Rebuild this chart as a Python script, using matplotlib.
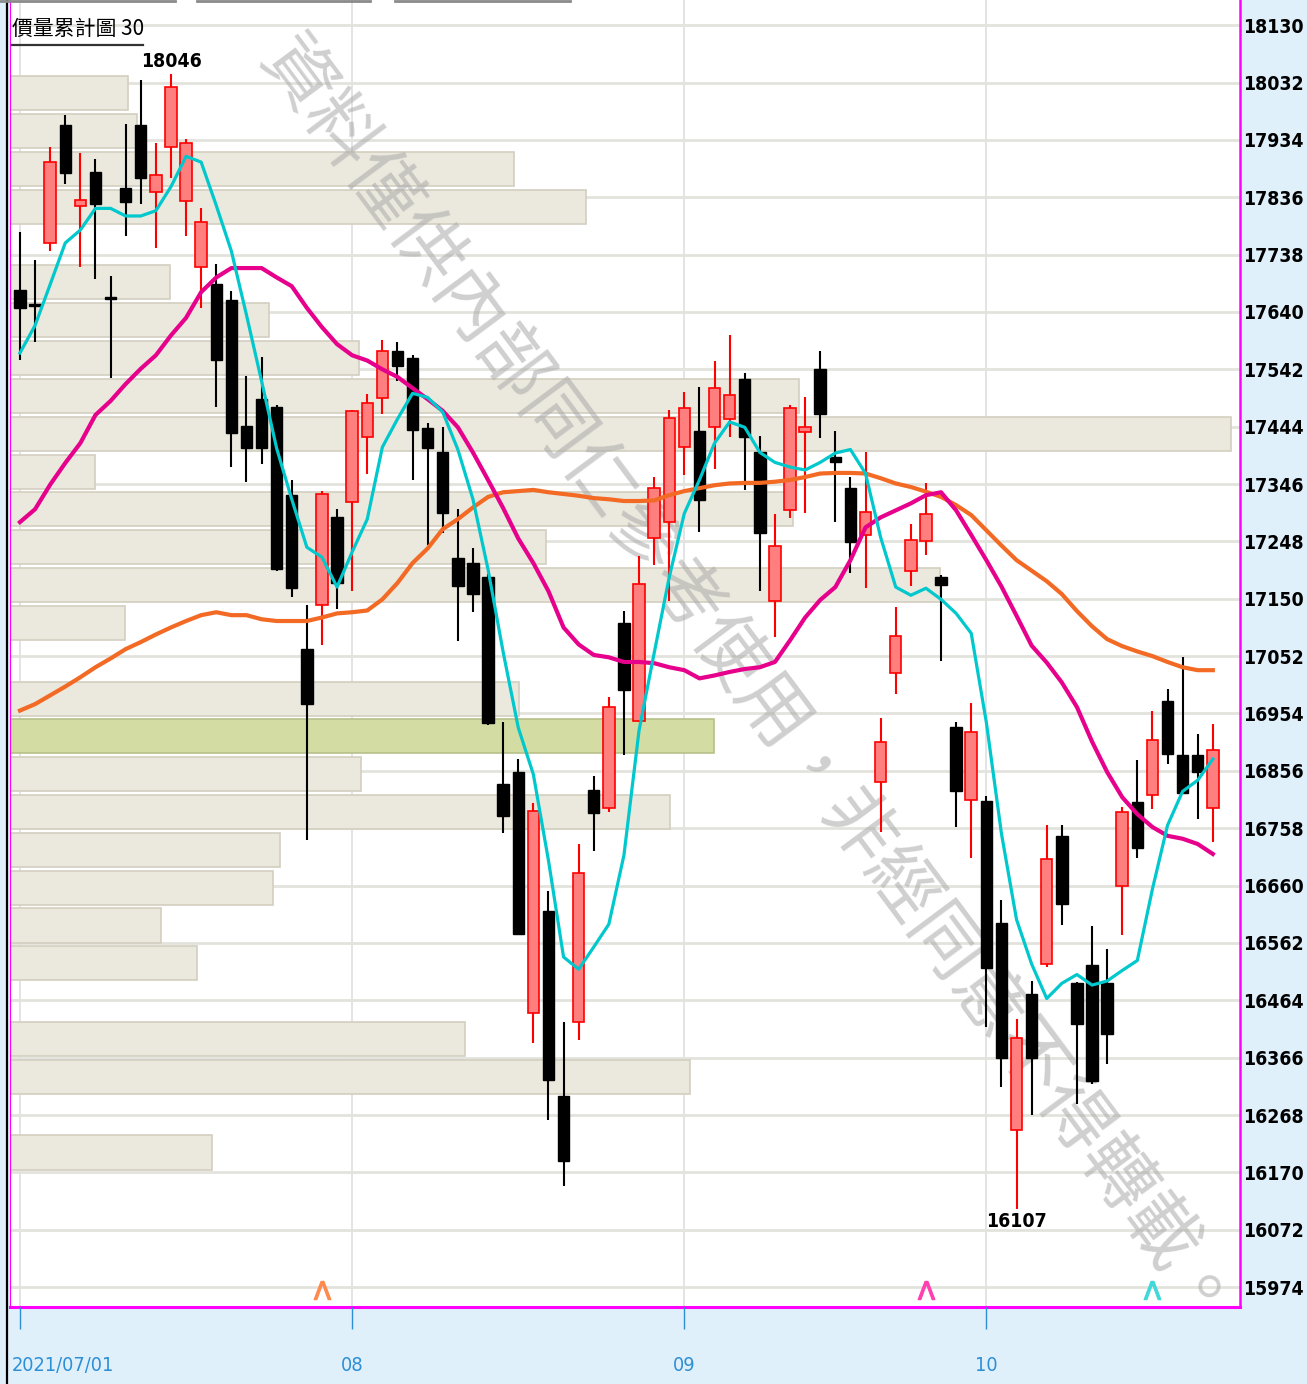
import matplotlib
matplotlib.use("Agg")
import matplotlib.pyplot as plt
import numpy as np
from matplotlib import font_manager
from matplotlib.font_manager import FontProperties
from matplotlib.textpath import TextPath
from matplotlib.lines import Line2D
from matplotlib.transforms import blended_transform_factory, ScaledTranslation

# 日K資料 2021/07/01 ~ 2021/10
opens = [17677, 17654, 17758, 17959, 17821, 17879, 17665, 17852, 17959, 17845,
         17922, 17829, 17717, 17687, 17660, 17445, 17491, 17477, 17327, 17064,
         17139, 17289, 17315, 17426, 17493, 17574, 17561, 17441, 17400, 17219,
         17211, 17187, 16833, 16854, 16442, 16617, 16301, 16427, 16823, 16792,
         17108, 16942, 17253, 17281, 17409, 17436, 17443, 17457, 17525, 17401,
         17146, 17301, 17435, 17542, 17392, 17339, 17259, 16837, 17023, 17198,
         17249, 17188, 16931, 16806, 16804, 16596, 16242, 16475, 16526, 16745,
         16493, 16524, 16493, 16659, 16802, 16814, 16975, 16883, 16883, 16792]
highs = [17776, 17728, 17922, 17977, 17911, 17902, 17701, 17962, 18036, 17928,
         18046, 17935, 17817, 17722, 17676, 17530, 17563, 17481, 17353, 17139,
         17334, 17303, 17472, 17500, 17592, 17588, 17566, 17450, 17443, 17303,
         17236, 17192, 16940, 16876, 16801, 16650, 16427, 16731, 16847, 16982,
         17129, 17223, 17358, 17472, 17503, 17512, 17556, 17600, 17535, 17428,
         17294, 17481, 17494, 17574, 17436, 17358, 17401, 16946, 17136, 17277,
         17347, 17190, 16940, 16972, 16813, 16635, 16432, 16497, 16763, 16763,
         16495, 16591, 16551, 16794, 16874, 16958, 16995, 17050, 16919, 16936]
lows = [17558, 17588, 17744, 17859, 17717, 17696, 17527, 17769, 17824, 17749,
        17869, 17769, 17646, 17477, 17375, 17349, 17380, 17197, 17153, 16738,
        17071, 17132, 17163, 17363, 17465, 17522, 17353, 17242, 17262, 17078,
        17127, 16935, 16749, 16575, 16391, 16259, 16147, 16396, 16719, 16785,
        16883, 16939, 17207, 17146, 17361, 17264, 17371, 17426, 17335, 17163,
        17084, 17288, 17296, 17424, 17281, 17194, 17168, 16751, 16987, 17171,
        17224, 17043, 16760, 16707, 16418, 16316, 16107, 16268, 16521, 16592,
        16286, 16321, 16356, 16575, 16707, 16791, 16867, 16816, 16774, 16734]
closes = [17646, 17651, 17896, 17877, 17831, 17824, 17662, 17828, 17869, 17874,
          18025, 17928, 17793, 17558, 17434, 17407, 17407, 17201, 17168, 16970,
          17329, 17177, 17471, 17484, 17573, 17547, 17438, 17407, 17296, 17172,
          17158, 16937, 16779, 16577, 16788, 16327, 16190, 16681, 16784, 16965,
          16994, 17175, 17339, 17459, 17476, 17318, 17510, 17498, 17426, 17262,
          17240, 17476, 17444, 17465, 17384, 17247, 17298, 16905, 17086, 17250,
          17294, 17173, 16821, 16922, 16520, 16365, 16399, 16365, 16705, 16628,
          16424, 16326, 16407, 16785, 16725, 16908, 16884, 16818, 16854, 16891]

# 均線
ma5 = [17570, 17617, 17687, 17758, 17780, 17817, 17817, 17804, 17804, 17813,
       17854, 17906, 17896, 17822, 17744, 17635, 17522, 17407, 17320, 17238,
       17221, 17170, 17230, 17286, 17409, 17457, 17501, 17494, 17469, 17405,
       17320, 17200, 17059, 16930, 16850, 16703, 16538, 16517, 16555, 16594,
       16712, 16925, 17057, 17187, 17296, 17353, 17416, 17452, 17443, 17400,
       17383, 17375, 17370, 17383, 17399, 17405, 17364, 17255, 17170, 17156,
       17168, 17149, 17125, 17091, 16939, 16749, 16602, 16526, 16467, 16493,
       16508, 16490, 16497, 16515, 16532, 16654, 16763, 16821, 16840, 16876]
ma20 = [17281, 17303, 17345, 17382, 17416, 17464, 17488, 17517, 17543, 17566,
        17600, 17630, 17674, 17699, 17715, 17715, 17715, 17699, 17684, 17647,
        17614, 17585, 17566, 17557, 17542, 17529, 17510, 17491, 17471, 17443,
        17400, 17353, 17305, 17253, 17211, 17163, 17101, 17072, 17054, 17050,
        17042, 17042, 17040, 17033, 17028, 17014, 17019, 17025, 17030, 17033,
        17042, 17079, 17118, 17148, 17170, 17216, 17272, 17289, 17301, 17313,
        17327, 17332, 17301, 17259, 17216, 17171, 17121, 17070, 17041, 17007,
        16965, 16906, 16854, 16811, 16782, 16760, 16745, 16740, 16731, 16714]
ma60 = [16959, 16970, 16985, 17000, 17016, 17033, 17048, 17064, 17076, 17089,
        17101, 17112, 17122, 17127, 17122, 17122, 17115, 17112, 17112, 17112,
        17118, 17125, 17127, 17130, 17149, 17177, 17211, 17236, 17269, 17286,
        17306, 17324, 17332, 17334, 17336, 17332, 17329, 17326, 17322, 17320,
        17317, 17317, 17318, 17327, 17334, 17339, 17344, 17347, 17348, 17348,
        17350, 17353, 17358, 17364, 17365, 17365, 17364, 17356, 17347, 17341,
        17333, 17324, 17310, 17293, 17267, 17241, 17216, 17198, 17180, 17158,
        17129, 17103, 17081, 17069, 17060, 17052, 17042, 17033, 17028, 17028]

# 價量累計圖 30 區間 (由低到高)
vol_profile = [0, 202, 0, 680, 455, 0, 187, 151, 263, 270,
               660, 351, 704, 509, 0, 115, 930, 536, 783, 85,
               1221, 789, 349, 259, 160, 0, 576, 504, 127, 118]
bin_low, bin_high = 16107, 18046

month_idx = [0, 22, 44, 64]
month_labels = ["2021/07/01", "08", "09", "10"]
y_ticks = list(range(15974, 18131, 98))
sig_idx = [20, 60, 75]
sig_colors = ["#ff8a50", "#ff40b0", "#40d8d8"]
watermark = "資料僅供內部同仁參考使用，非經同意不得轉載。"

W, H = 1307, 1384
fig = plt.figure(figsize=(W / 100, H / 100), dpi=100, facecolor="#dff0fb")


def pick_font(bold):
    # 窄字型優先
    for f in font_manager.fontManager.ttflist:
        narrow = ("Narrow" in f.name or "Condensed" in f.name
                  or f.stretch in ("condensed", "semi-condensed"))
        is_bold = f.weight in (700, "bold")
        if narrow and f.style == "normal" and is_bold == bold:
            return FontProperties(fname=f.fname)
    return FontProperties(family="DejaVu Sans", weight="bold" if bold else "normal")


def fit(fp, text, width_px, max_size):
    # 依參考圖文字寬度決定字級
    w = TextPath((0, 0), text, size=10, prop=fp).get_extents().width * 100 / 72
    fp = fp.copy()
    fp.set_size(min(max_size, 10 * width_px / w))
    return fp


y_fp = fit(pick_font(True), "18130", 58, 20)
x_fp = fit(pick_font(False), "2021/07/01", 100, 20)
cjk = ["Noto Sans CJK TC", "DejaVu Sans"]

ax_vol = fig.add_axes([10 / W, 77 / H, 1230 / W, 1307 / H])
ax_vol.set_facecolor("white")
ax = ax_vol.twiny()

n = len(closes)
x = np.arange(n)
ax.set_xlim(-0.66, 80.8)
ax_vol.set_ylim(15940, 18173)
ax_vol.set_xlim(0, 1230)

# 格線
for t in y_ticks:
    ax_vol.axhline(t, color="#e3e3de", lw=2, zorder=0)
trans = blended_transform_factory(ax.transData, ax_vol.transAxes)
for m in month_idx:
    ax_vol.plot([m, m], [0, 1], transform=trans, color="#e2e2e2", lw=1.3, zorder=0)

# 價量累計圖
nb = len(vol_profile)
step = (bin_high - bin_low) / nb
bin_lo = bin_low + step * np.arange(nb)
cur_bin = int((closes[-1] - bin_low) // step)
fc = ["#d3dca2" if i == cur_bin else "#ebe8dd" for i in range(nb)]
ec = ["#b7c088" if i == cur_bin else "#d3cfc0" for i in range(nb)]
ax_vol.barh(bin_lo + step * 0.05, vol_profile, height=step * 0.9, align="edge",
            color=fc, edgecolor=ec, linewidth=1.2, zorder=2)

# 浮水印
ax.text(748 / W, 1 - 685 / H, watermark, transform=fig.transFigure, rotation=-53.3,
        rotation_mode="anchor", ha="center", va="center", fontsize=52,
        family=cjk, color="#a8a8a8", alpha=0.55, zorder=1, clip_on=False)

# K棒
o = np.array(opens); c = np.array(closes)
up = c >= o
body_lo = np.minimum(o, c)
body_h = np.maximum(np.abs(c - o), 3)
ax.vlines(x[up], np.array(lows)[up], np.array(highs)[up], color="#ff0000", lw=1.5, zorder=3)
ax.vlines(x[~up], np.array(lows)[~up], np.array(highs)[~up], color="black", lw=1.5, zorder=3)
ax.bar(x[up], body_h[up], bottom=body_lo[up], width=0.76, color="#ff7f7f",
       edgecolor="#ff0000", linewidth=1.2, zorder=4)
ax.bar(x[~up], body_h[~up], bottom=body_lo[~up], width=0.76, color="black",
       edgecolor="black", linewidth=1.0, zorder=4)

# 均線
ax.plot(x, ma60, color="#f26a24", lw=3.0, zorder=5)
ax.plot(x, ma20, color="#e6008c", lw=3.0, zorder=5)
ax.plot(x, ma5, color="#00c8cc", lw=2.3, zorder=6)

# 最高 最低
ih = int(np.argmax(highs)); il = int(np.argmin(lows))
ax.annotate(f"{highs[ih]}", xy=(ih, highs[ih]), xytext=(0, 3), textcoords="offset pixels",
            ha="center", va="bottom", fontproperties=y_fp, zorder=7)
ax.annotate(f"{lows[il]}", xy=(il, lows[il]), xytext=(0, -3), textcoords="offset pixels",
            ha="center", va="top", fontproperties=y_fp, zorder=7)

# 訊號
strans = blended_transform_factory(ax.transData, ax.transAxes)
for si, sc in zip(sig_idx, sig_colors):
    ax.plot(si, 0.013, marker=r"$\Lambda$", markersize=13, color=sc,
            transform=strans, clip_on=False, zorder=7)

# 座標軸
ax_vol.xaxis.set_visible(False)
ax_vol.yaxis.tick_right()
ax_vol.set_yticks(y_ticks, [str(t) for t in y_ticks])
ax_vol.tick_params(axis="y", length=0, pad=2)
for lab in ax_vol.get_yticklabels():
    lab.set_fontproperties(y_fp)

ax.xaxis.tick_bottom()
ax.set_xticks(month_idx, month_labels)
ax.tick_params(axis="x", direction="out", length=16, width=1, color="#2f8fd5",
               labelcolor="#2f8fd5", pad=19)
xl = ax.get_xticklabels()
for lab in xl:
    lab.set_fontproperties(x_fp)
xl[0].set_ha("left")
xl[0].set_transform(xl[0].get_transform() + ScaledTranslation(-0.08, 0, fig.dpi_scale_trans))

for s in ax.spines.values():
    s.set_visible(False)
ax_vol.spines["top"].set_visible(False)
ax_vol.spines["right"].set_color("#ff00ff"); ax_vol.spines["right"].set_linewidth(1.8)
ax_vol.spines["bottom"].set_color("#ff00ff"); ax_vol.spines["bottom"].set_linewidth(2.2)
ax_vol.spines["left"].set_color("#ff00ff"); ax_vol.spines["left"].set_linewidth(0.8)

# 標題
fig.text(12 / W, 1 - 29 / H, "價量累計圖 30", family=cjk, fontsize=15, va="center", ha="left")
fig.add_artist(Line2D([12 / W, 143 / W], [1 - 45 / H, 1 - 45 / H], color="#333333", lw=1.6))
fig.add_artist(Line2D([7 / W, 7 / W], [0, 1], color="black", lw=1.6))
for a, b in [(0, 175), (197, 370), (395, 570)]:
    fig.add_artist(Line2D([a / W, b / W], [1 - 1 / H, 1 - 1 / H], color="#8a8a8a", lw=2))

fig.savefig("out.png", dpi=100, facecolor=fig.get_facecolor())
